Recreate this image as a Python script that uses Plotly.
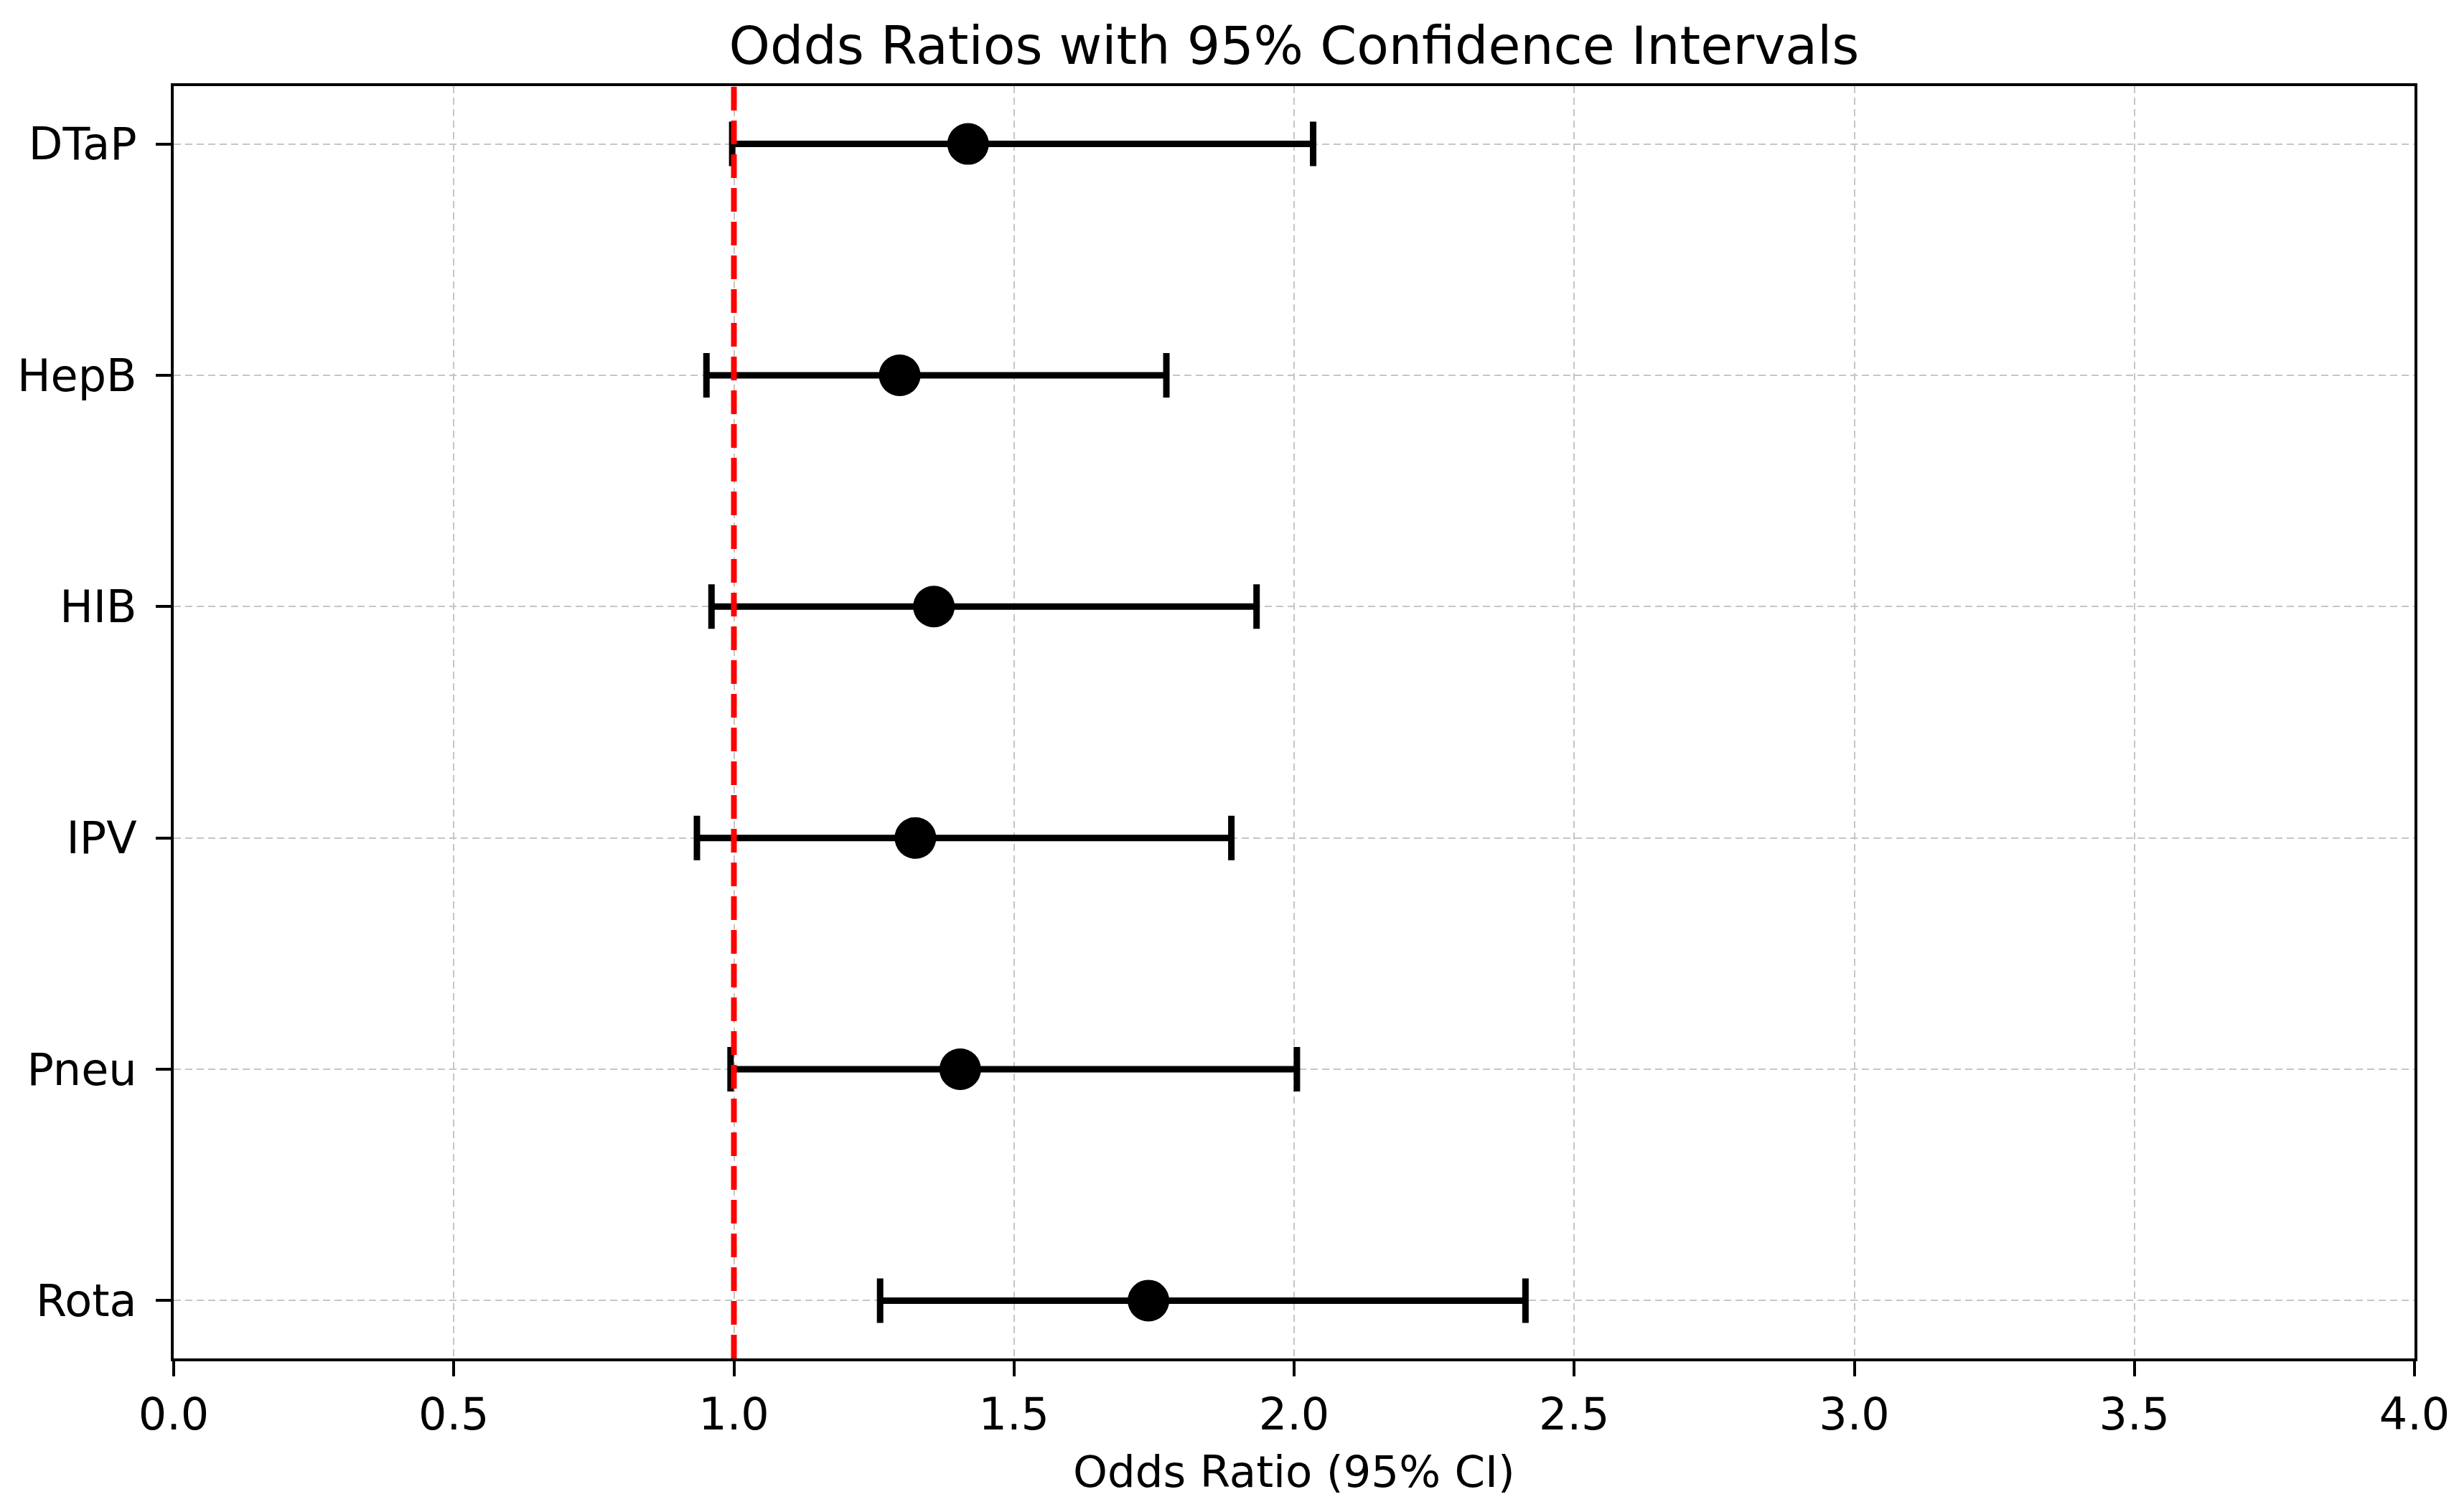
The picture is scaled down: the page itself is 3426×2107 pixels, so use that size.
import plotly.graph_objects as go

vaccines = ["DTaP", "HepB", "HIB", "IPV", "Pneu", "Rota"]
odds_ratio = [1.418, 1.296, 1.357, 1.324, 1.404, 1.740]
ci_lower = [0.997, 0.951, 0.960, 0.934, 0.994, 1.261]
ci_upper = [2.034, 1.772, 1.933, 1.888, 2.005, 2.413]
x_ticks = [0.0, 0.5, 1.0, 1.5, 2.0, 2.5, 3.0, 3.5, 4.0]
x_tick_labels = ["0.0", "0.5", "1.0", "1.5", "2.0", "2.5", "3.0", "3.5", "4.0"]
reference_or = 1.0

err_plus = [u - o for u, o in zip(ci_upper, odds_ratio)]
err_minus = [o - l for o, l in zip(odds_ratio, ci_lower)]

FONT = "DejaVu Sans"

fig = go.Figure()
fig.add_trace(go.Scatter(
    x=odds_ratio,
    y=vaccines,
    mode="markers",
    marker=dict(size=58, color="black", symbol="circle"),
    error_x=dict(type="data", symmetric=False, array=err_plus, arrayminus=err_minus,
                 color="black", thickness=9, width=31),
    showlegend=False,
    hoverinfo="x+y",
))

fig.add_shape(type="line", xref="x", yref="paper", x0=reference_or, x1=reference_or,
              y0=0, y1=1, line=dict(color="#ff0000", width=8, dash="33px,14px"), layer="above")

fig.update_layout(
    width=3426, height=2107,
    margin=dict(l=234, r=70, t=112, b=222, autoexpand=False),
    paper_bgcolor="white", plot_bgcolor="white",
    font=dict(family=FONT, size=62, color="black"),
    title=dict(text="Odds Ratios with 95% Confidence Intervals", x=0.5, xref="paper",
               y=1 - 55 / 2107, yref="container", xanchor="center", yanchor="middle",
               font=dict(family=FONT, size=73, color="black")),
)

fig.update_xaxes(
    range=[0, 4], tickvals=x_ticks, ticktext=x_tick_labels,
    showgrid=True, gridcolor="#c6c6c6", gridwidth=2, griddash="10px,6px",
    showline=True, linecolor="black", linewidth=4, mirror=True,
    ticks="outside", ticklen=21, tickwidth=4, tickcolor="black",
    zeroline=False,
    title=dict(text="Odds Ratio (95% CI)", font=dict(family=FONT, size=61), standoff=24),
    tickfont=dict(family=FONT, size=62),
)

fig.update_yaxes(
    type="category", categoryorder="array", categoryarray=vaccines,
    range=[5.25, -0.25],
    showgrid=True, gridcolor="#c6c6c6", gridwidth=2, griddash="10px,6px",
    showline=True, linecolor="black", linewidth=4, mirror=True,
    ticks="outside", ticklen=21, tickwidth=4, tickcolor="black",
    zeroline=False,
    tickfont=dict(family=FONT, size=62),
    ticklabelstandoff=14,
)

fig.write_html("out.html")
